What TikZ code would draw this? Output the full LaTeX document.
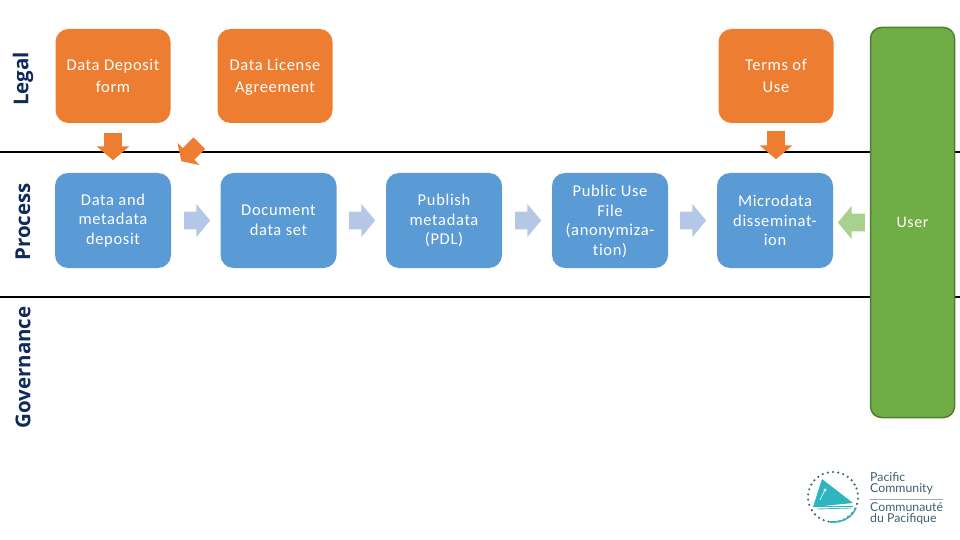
\documentclass[tikz,border=0pt]{standalone}
\usepackage{fontspec}
\setmainfont[LetterSpace=4,Ligatures=NoCommon]{Carlito}
\newfontfamily\sidefont{Open Sans}
\newfontfamily\logofont{Lato}
\usepackage{tikz}
\usetikzlibrary{shapes.arrows}
\definecolor{legalorange}{HTML}{ED7D31}
\definecolor{processblue}{HTML}{5B9BD5}
\definecolor{usergreen}{HTML}{70AD47}
\definecolor{userborder}{HTML}{507E32}
\definecolor{flowblue}{HTML}{B4C7E7}
\definecolor{flowgreen}{HTML}{A9D18E}
\definecolor{sidenavy}{HTML}{0F2A5C}
\definecolor{logoteal}{HTML}{2FB5BE}
\definecolor{logoink}{HTML}{3E6070}
\tikzset{boxstyle/.style={rounded corners=13,inner sep=0,align=center,text=white,font=\fontsize{16.5}{19.5}\selectfont},
  legalstyle/.style={boxstyle,fill=legalorange,minimum width=115,minimum height=94,font=\fontsize{16.5}{22}\selectfont},
  processstyle/.style={boxstyle,fill=processblue,minimum width=116,minimum height=95},
  sidestyle/.style={rotate=90,text=sidenavy,font=\sidefont\bfseries\fontsize{20.5}{24}\selectfont},
  arrowstyle/.style={single arrow,anchor=tail,inner sep=0,single arrow head extend=7.5,single arrow tip angle=100,
    minimum height=26,text height=17.5,text depth=0},
  logotext/.style={anchor=west,inner sep=0,text=logoink,font=\logofont\fontsize{12.3}{12}\selectfont}}

\begin{document}
\begin{tikzpicture}[x=1pt,y=-1pt]
        \useasboundingbox (0,0) rectangle (960,540);

        % Swimlane rules
        \coordinate (ruleAl) at (0,152);
        \coordinate (ruleAr) at (960,152);
        \coordinate (ruleBl) at (0,297);
        \coordinate (ruleBr) at (960,297);
        \draw[line width=1.5] (ruleAl) -- (ruleAr);
        \draw[line width=1.5] (ruleBl) -- (ruleBr);

        % Lane titles
        \foreach \name/\y in {Legal/79,Process/222,Governance/367.5}
        {
            \node[sidestyle] (\name) at (23,\y) {\name};
        }

        % Legal row
        \foreach \name/\x/\txt in {deposit/113/{Data Deposit\\form},license/275/{Data License\\\smash{Agreement}},terms/776/{Terms of\\Use}}
        {
            \node[legalstyle] (\name) at (\x,76) {\txt};
        }

        % Process row
        \foreach \name/\x/\txt in {data/113/{Data and\\metadata\\deposit},document/278.5/{Document\\data set},publish/444/{Publish\\metadata\\(PDL)},public/610/{Public Use\\File\\(anonymiza-\\\smash{tion)}},micro/775/{Microdata\\disseminat-\\ion}}
        {
            \node[processstyle] (\name) at (\x,220.5) {\txt};
        }

        % Flow arrows
        \foreach \i/\x in {1/184,2/349,3/515,4/680}
        {
            \node[arrowstyle,fill=flowblue] (flow\i) at (\x,220.5) {};
        }

        % Orange arrows
        \node[arrowstyle,fill=legalorange,rotate=270,minimum height=27] (downA) at (113,133) {};
        \node[arrowstyle,fill=legalorange,rotate=270,minimum height=28] (downB) at (776,131) {};
        \node[arrowstyle,fill=legalorange,rotate=225,minimum height=25.5,text height=16,single arrow tip angle=114] (diag) at (199.5,143) {};

        % User
        \node[rounded corners=11,fill=usergreen,draw=userborder,line width=1.5,minimum width=84,minimum height=390,
              inner sep=0,text=white,font=\fontsize{16}{18}\selectfont] (user) at (912.5,222.5) {User};
        \node[arrowstyle,fill=flowgreen,rotate=180,minimum height=27] (back) at (865,222.5) {};

        % Logo
        \foreach \a in {-20,-8,...,150}
        {
            \fill[logoink] (833,497) ++(\a:25) circle (1.2);
        }
        \foreach \a in {162,174,186,198,210,222,234,246,258,270,282,294,306,318,330}
        {
            \fill[logoink] (833,497) ++(\a:25) circle (1.2);
        }
        \fill[logoteal] (822,479) -- (853,503) -- (813,507) -- cycle;
        \draw[white,line width=0.6] (820,500) -- (825,490);
        \fill[white] (825,490) circle (1.6);
        \draw[logoteal,line width=0.8] (813,506) -- (853,506);
        \draw[logoteal,line width=0.8] (817,509) -- (851,508);
        \draw[logoteal,line width=1.6] (830,522) .. controls (843,523) and (852,517) .. (856,508);

        \node[logotext] (pacific) at (870,477) {Pacific};
        \node[logotext] (community) at (870,489) {Community};
        \coordinate (logoRuleL) at (870,499);
        \coordinate (logoRuleR) at (943,499);
        \draw[gray!70,line width=0.7] (logoRuleL) -- (logoRuleR);
        \node[logotext] (communaute) at (870,507) {Communauté};
        \node[logotext] (pacifique) at (870,519) {du Pacifique};
\end{tikzpicture}
\end{document}
